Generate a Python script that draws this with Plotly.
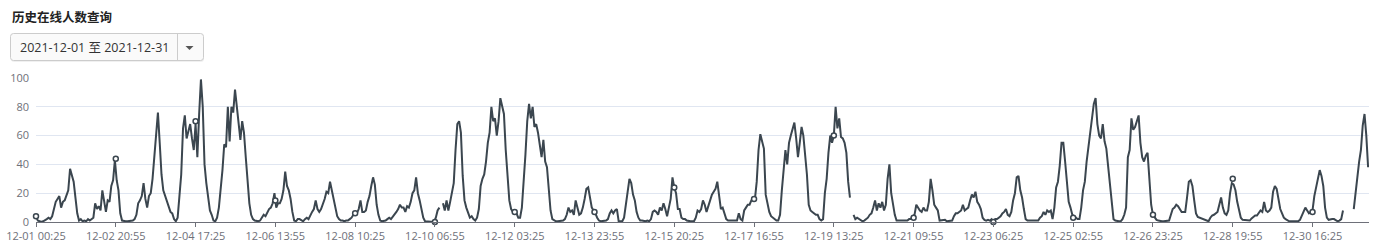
import pandas as pd
import plotly.graph_objects as go

# ---------------- data ----------------
title_text = "历史在线人数查询"
range_text = "2021-12-01 至 2021-12-31"
start_time = "2021-12-01 00:25"
end_time = "2021-12-31 23:55"
year = "2021"

# hourly online counts, one row per day (12-01 ... 12-31), None = no data
online_counts = [
    4, 1, 0.5, 0, 0.5, 1, 2, 3, 2, 4, 9, 14, 16, 18, 10, 14, 15, 18, 22, 37, 33, 28, 17, 6,
    1, 2, 0.5, 1, 0.5, 2, 1, 2, 3, 13, 9, 11, 8, 22, 14, 7, 15, 14, 25, 29, 43, 29, 22, 6,
    1, 0.5, 0.5, 0.5, 0.5, 0.5, 1, 2, 5, 13, 15, 18, 27, 16, 10, 18, 20, 30, 45, 62, 76, 55, 33, 22,
    18, 14, 10, 7, 6, 2, 0.5, 3, 18, 33, 65, 74, 58, 63, 68, 58, 50, 68, 45, 75, 99, 80, 40, 27,
    16, 8, 5, 1, 0.5, 3, 10, 22, 36, 54, 52, 80, 56, 80, 76, 92, 80, 68, 57, 70, 62, 45, 25, 13,
    5, 2, 1, 0.5, 0.5, 1, 3, 5, 4, 7, 9, 10, 13, 20, 10, 13, 13, 16, 22, 35, 25, 22, 16, 7,
    1, 0.5, 2, 2, 1, 0.5, 2, 3, 2, 5, 7, 9, 15, 9, 7, 9, 12, 16, 21, 20, 28, 22, 17, 10,
    4, 2, 1, 1, 0.5, 1, 1, 2, 3, 5, 6, 6, 9, 15, 7, 7, 8, 14, 18, 25, 31, 26, 12, 5,
    1, 0.5, 0.5, 1, 2, 3, 2, 3.5, 5, 7, 9, 12, 10, 10, 7, 11, 10, 14, 20, 22, 31, 20, 15, 10,
    3, 0.5, 0.5, 0.5, 0, 0, 0, 3, 8, 10, None, 13, 8, 15, 8, 14, 22, 27, 50, 68, 70, 62, 32, 15,
    10, 6, 3, 4, 2, 1, 3, 9, 25, 30, 33, 42, 55, 62, 80, 70, 72, 60, 70, 86, 80, 75, 50, 28,
    15, 9, 7, 7, 6, 3, 3, 10, 26, 47, 70, 82, 72, 80, 66, 68, 62, 52, 45, 57, 42, 38, 24, 8,
    2, 1, 0.5, 0.5, 0.5, 0.5, 1, 2, 5, 10, 7, 8, 5, 15, 9, 5, 6, 10, 16, 23, 24, 16, 10, 8,
    6, 3, 1, 0.5, 0.5, 1, 1, 2, 6, 8, 6, 8, 9, 0.5, 0.5, 0.5, 3, 11, 19, 30, 27, 19, 15, 7,
    3, 1, 1, 0.5, 0.5, 1, 0.5, 2, 7, 8, 7, 5, 10, 8, 13, 9, 4, 10, 16, 31, 24, 20, 9, 9,
    3, 2, 2, 1, 0.5, 0.5, 0.5, 0.5, 3, 8, 7, 9, 15, 12, 7, 11, 16, 19, 21, 23, 28, 18, 9, 10,
    5, 2, 1, 1, 0.5, 0.5, 0.5, 1, 6, 2, 1, 8, 10, 12, 12, 15, 16, 16, 28, 50, 61, 56, 51, 19,
    12, 7, 4, 3, 2, 1, 1, 5, 22, 36, 50, 40, 55, 60, 65, 69, 58, 45, 55, 66, 60, 46, 33, 12,
    8, 7, 6, 5, 5, 2, 1, 2, 20, 30, 48, 60, 55, 60, 80, 65, 72, 59, 58, 55, 48, 28, 17, None,
    5, 2, 3, 2, 1, 0.5, 1, 2, 3, 5, 6, 10, 15, 8, 13, 10, 14, 8, 12, 30, 40, 20, 13, 5,
    1, 1, 0.5, 1, 1, 0.5, 1, 2, 2, 4, 5, 12, 10, 8, 7, 10, 8, 8, 14, 30, 22, 12, 10, 8,
    1, 1, 1, 1.5, 0.5, 0.5, 0.5, 1, 4, 6, 6, 7, 8, 12, 8, 9, 10, 15, 19, 17, 21, 14, 12, 9,
    3, 1.5, 1, 1.5, 1, 2, 0, 2, 2, 3, 4, 6, 7, 9, 5, 4, 7, 15, 20, 31, 32, 22, 17, 9,
    2, 1, 1, 1, 0.5, 0.5, 0.5, 1, 3, 4, 7, 5, 8, 7, 8, 2, 10, 24, 28, 39, 55, 55, 42, 27,
    14, 10, 5, 4, 3, 2, 2, 10, 22, 28, 42, 52, 62, 71, 82, 86, 68, 60, 58, 68, 56, 51, 39, 25,
    12, 2, 1, 0.5, 0.5, 0.5, 2, 5, 10, 45, 50, 72, 64, 66, 70, 74, 55, 45, 42, 46, 48, 27, 12, 5,
    3, 1.5, 1, 0.5, 0.5, 0.5, 0.5, 0.5, 1, 5, 9, 10, 12, 11, 9, 7, 7, 7, 17, 28, 29, 25, 15, 6,
    3.5, 3, 2, 2, 1.5, 1, 0.5, 3, 4.5, 5, 6, 7, 12, 17, 10, 6, 5, 8, 20, 27, 26, 22, 14, 7,
    3, 1.5, 1.5, 1, 1.5, 1, 2.5, 3.5, 4.5, 4.5, 6, 8, 7, 14, 8, 7, 8, 10, 21, 25, 23, 16, 9, 6,
    3, 2, 1, 0.5, 0.5, 0.5, 0.5, 0.5, 0.5, 1.5, 4, 7, 10, 8, 6, 7, 8, 18, 24, 30, 36, 32, 25, 10,
    3, 1.5, 2, 2, 2, 1, 0.5, 1, 2, 8, None, None, None, None, None, 9, 22, 31, 42, 50, 67, 75, 60, 38,
]

tick_labels = ["12-01 00:25", "12-02 20:55", "12-04 17:25", "12-06 13:55", "12-08 10:25",
               "12-10 06:55", "12-12 03:25", "12-13 23:55", "12-15 20:25", "12-17 16:55",
               "12-19 13:25", "12-21 09:55", "12-23 06:25", "12-25 02:55", "12-26 23:25",
               "12-28 19:55", "12-30 16:25"]
marker_values = [4, 44, 70, 15, 6, 0, 7, 7, 24, 16, 60, 3, 0, 3, 5, 30, 7]
y_ticks = [0, 20, 40, 60, 80, 100]

# ---------------- geometry / style ----------------
W, H = 1389, 243
L, R, T, B = 36, 20, 78, 21
PW, PH = W - L - R, H - T - B
LINE_COLOR = "#3b464f"
AXIS_COLOR = "#6e7079"
GRID_COLOR = "#e0e6f1"
FONT = "Open Sans"


def px(x):
    return (x - L) / PW


def py(y):
    return (H - B - y) / PH


times = pd.date_range(start_time, periods=len(online_counts), freq="h")
tick_times = pd.to_datetime([f"{year}-{t}" for t in tick_labels])

fig = go.Figure()
fig.add_trace(go.Scatter(
    x=times, y=online_counts, mode="lines", connectgaps=False,
    line=dict(color=LINE_COLOR, width=2), cliponaxis=False, hoverinfo="skip",
    showlegend=False,
))
fig.add_trace(go.Scatter(
    x=tick_times, y=marker_values, mode="markers", cliponaxis=False,
    marker=dict(size=5, color="white", line=dict(color=LINE_COLOR, width=1.5)),
    showlegend=False, hoverinfo="skip",
))


def rounded_rect(x0, y0, x1, y1, r):
    X, Y = px, py
    return (f"M {X(x0 + r)},{Y(y0)} L {X(x1 - r)},{Y(y0)} Q {X(x1)},{Y(y0)} {X(x1)},{Y(y0 + r)} "
            f"L {X(x1)},{Y(y1 - r)} Q {X(x1)},{Y(y1)} {X(x1 - r)},{Y(y1)} "
            f"L {X(x0 + r)},{Y(y1)} Q {X(x0)},{Y(y1)} {X(x0)},{Y(y1 - r)} "
            f"L {X(x0)},{Y(y0 + r)} Q {X(x0)},{Y(y0)} {X(x0 + r)},{Y(y0)} Z")


shapes = [
    dict(type="path", xref="paper", yref="paper", path=rounded_rect(11, 35, 204, 62, 3),
         fillcolor="rgba(0,0,0,0.06)", line=dict(width=0), layer="above"),
    dict(type="path", xref="paper", yref="paper", path=rounded_rect(10.5, 33.5, 203.5, 60.5, 3),
         fillcolor="#fafafa", line=dict(color="#cccccc", width=1), layer="above"),
    dict(type="line", xref="paper", yref="paper", x0=px(177.5), x1=px(177.5), y0=py(34), y1=py(60),
         line=dict(color="#cccccc", width=1), layer="above"),
    dict(type="path", xref="paper", yref="paper",
         path=f"M {px(185.5)},{py(46)} L {px(193.5)},{py(46)} L {px(189.5)},{py(50)} Z",
         fillcolor="#555555", line=dict(width=0), layer="above"),
]

annotations = [
    dict(xref="paper", yref="paper", x=px(10), y=py(16), xanchor="left", yanchor="middle",
         text=f"<b>{title_text}</b>", showarrow=False,
         font=dict(family="Noto Sans CJK SC", size=12.5, color="#222222")),
    dict(xref="paper", yref="paper", x=px(18), y=py(47), xanchor="left", yanchor="middle",
         text=range_text, showarrow=False,
         font=dict(family=f"{FONT}, Noto Sans CJK SC", size=12.5, color="#333333")),
]

fig.update_layout(
    width=W, height=H,
    margin=dict(l=L, r=R, t=T, b=B, pad=0, autoexpand=False),
    paper_bgcolor="white", plot_bgcolor="white",
    font=dict(family=FONT, size=11, color=AXIS_COLOR),
    shapes=shapes, annotations=annotations,
    xaxis=dict(
        type="date", range=[pd.Timestamp(start_time), pd.Timestamp(end_time)],
        tickmode="array", tickvals=tick_times, ticktext=tick_labels, automargin=False,
        showgrid=False, zeroline=False, showline=True, linecolor=AXIS_COLOR, linewidth=1,
        ticks="outside", ticklen=4, tickcolor=AXIS_COLOR, tickwidth=1,
        tickfont=dict(family=FONT, size=11, color=AXIS_COLOR),
    ),
    yaxis=dict(
        range=[0, 100], tickmode="array", tickvals=y_ticks, automargin=False,
        showgrid=True, gridcolor=GRID_COLOR, gridwidth=1, zeroline=False, showline=False,
        ticks="", ticklabelstandoff=6,
        tickfont=dict(family=FONT, size=11, color=AXIS_COLOR),
    ),
)

fig.write_html("out.html")
